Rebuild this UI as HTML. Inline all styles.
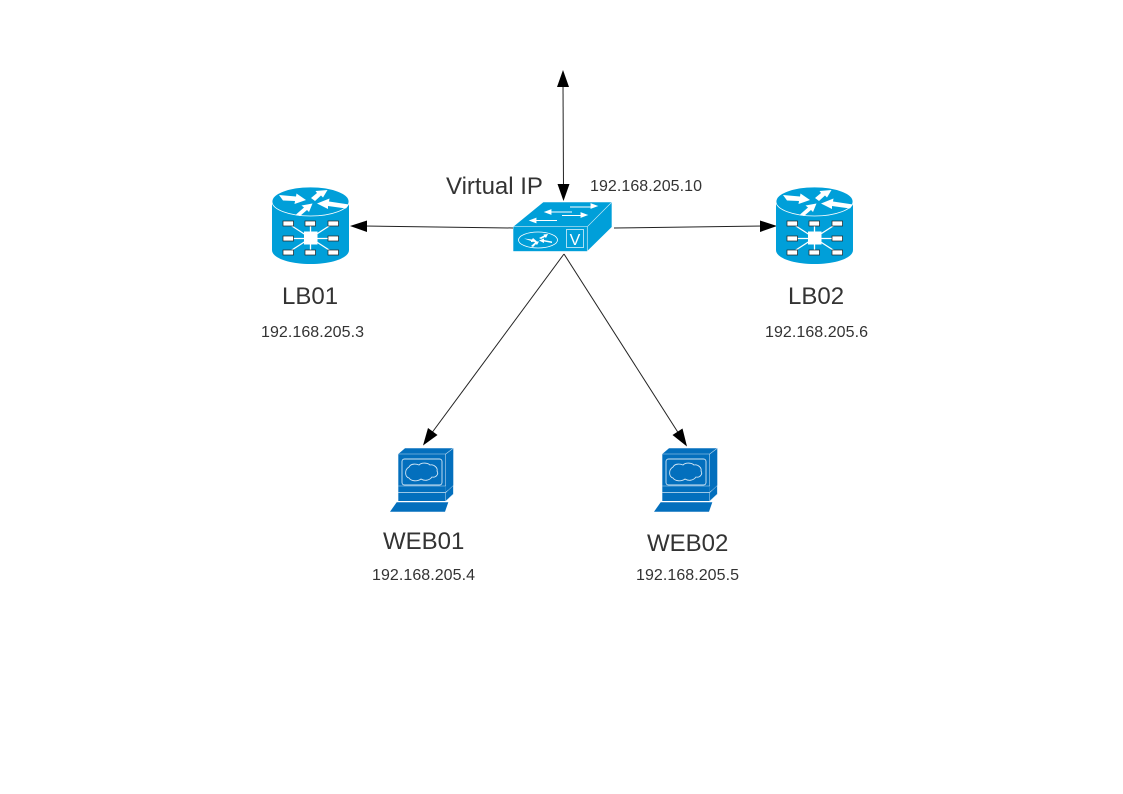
<!DOCTYPE html>
<html>
<head>
<meta charset="utf-8">
<style>
html,body{margin:0;padding:0;background:#fff;}
svg{display:block;}
text{font-family:"Liberation Sans",sans-serif;fill:#333;}
.b{font-size:24px;}
.s{font-size:16px;}
</style>
</head>
<body>
<svg width="1123" height="794" viewBox="0 0 1123 794" xmlns="http://www.w3.org/2000/svg">
<defs>
<g id="router">
  <path d="M272 201.500V250C272 258 289 264 310.500 264S349 258 349 250V201.500Z" fill="#009fd9"/>
  <ellipse cx="310.500" cy="201.500" rx="38.500" ry="14.500" fill="#009fd9" stroke="#fff" stroke-width="0.800"/>
  <g fill="#fff">
    <path d="M279 195L296 196.500L296.500 193.500L306 200L294.500 204L295 201L283 200.500Z"/>
    <path d="M311 198L317 193L315.500 191L327.500 190L323 197.500L321 195.500L315 201Z"/>
    <path d="M296 214.500L304 207.500L301.500 205.500L312.500 203.500L309 212L307 210L300 216Z"/>
    <path d="M346 208.500L328 206L328 209L317 203.500L329.500 198.500L329 201.500L349 204.500Z"/>
  </g>
  <g stroke="#fff" stroke-width="1.300" fill="none">
    <path d="M288 223.500L310.500 238M310.500 223.500V252M333 223.500L310.500 238M288 238.500H333M288 252.500L310.500 238L333 252.500"/>
  </g>
  <g fill="#fff" stroke="#222" stroke-width="0.700">
    <rect x="283" y="221" width="10.500" height="5"/>
    <rect x="305" y="221" width="10.500" height="5"/>
    <rect x="328" y="221" width="10.500" height="5"/>
    <rect x="283" y="236" width="10.500" height="5"/>
    <rect x="328" y="236" width="10.500" height="5"/>
    <rect x="283" y="250" width="10.500" height="5"/>
    <rect x="305" y="250" width="10.500" height="5"/>
    <rect x="328" y="250" width="10.500" height="5"/>
  </g>
  <rect x="304" y="231.500" width="13.500" height="13" fill="#fff"/>
</g>
<g id="pc">
  <path d="M398.300 454L405 448.300H453.300L445.700 454Z" fill="#036fbd"/>
  <path d="M445.700 454L453.300 448.300V486L445.700 492Z" fill="#036fbd"/>
  <rect x="398.300" y="454" width="47.400" height="32" fill="#036fbd"/>
  <path d="M445.700 454V486M445.700 454L453.300 448.300M398.300 454H445.700" stroke="#bcd9ef" stroke-width="0.600" fill="none"/>
  <rect x="402" y="459" width="40" height="26" rx="2.500" fill="none" stroke="#cfe4f4" stroke-width="0.900"/>
  <path d="M409 467C411 463 417 464 419 465C422 462 428 463 430 465C434 464 438 468 437 471C439 474 436 478 432 477C429 481 424 481 421 479C417 482 411 481 409 478C405 477 404 470 409 467Z" fill="#036fbd" stroke="#d5e8f6" stroke-width="0.900"/>
  <rect x="398.300" y="486" width="47.400" height="6.500" fill="#036fbd"/>
  <rect x="398.300" y="492.700" width="47.400" height="8.300" fill="#036fbd"/>
  <path d="M398.300 486H445.700M398.300 492.300H445.700" stroke="#bcd9ef" stroke-width="0.600" fill="none"/>
  <path d="M445.700 492.700L453.300 485.500V494L445.700 501Z" fill="#036fbd" stroke="#bcd9ef" stroke-width="0.500"/>
  <path d="M396.700 502.300H448.300L445 511.700H390Z" fill="#036fbd"/>
</g>
</defs>

<g stroke="#222" stroke-width="1" fill="none">
  <line x1="563" y1="84" x2="563.500" y2="187"/>
  <line x1="513" y1="228" x2="364" y2="226"/>
  <line x1="614" y1="228" x2="763" y2="226"/>
  <line x1="564" y1="254" x2="431" y2="434"/>
  <line x1="564" y1="254" x2="679" y2="434"/>
</g>
<g fill="#000">
  <path d="M563 70L569 87H557Z"/>
  <path d="M563.500 201L557.500 184H569.500Z"/>
  <path d="M350 226L367 220.500V232Z"/>
  <path d="M777 226L760 220.500V232Z"/>
  <path d="M423 445.500L428 428L437.500 435Z"/>
  <path d="M687 446.500L672.500 435L682.500 428.500Z"/>
</g>

<use href="#router"/>
<use href="#router" x="504"/>

<!-- switch -->
<path d="M543.300 202.300H611.700L587.300 226.700H513.300Z" fill="#009fd9"/>
<path d="M587.300 226.700L611.700 202.300V227L587.300 251Z" fill="#009fd9"/>
<rect x="513.300" y="226.700" width="74" height="24.500" fill="#009fd9"/>
<path d="M513.300 226.700H587.300L611.700 202.300M587.300 226.700V251" stroke="#cdeaf6" stroke-width="0.700" fill="none"/>
<g stroke="#fff" stroke-width="0.900" fill="#fff">
  <path d="M549 212H572" fill="none"/><path d="M545 212L551 209.800V214.200Z"/>
  <path d="M570 207H592" fill="none"/><path d="M597 206L591 203.800V208.200Z"/>
  <path d="M562 215.500H582" fill="none"/><path d="M587 215L581 212.800V217.200Z"/>
  <path d="M534 220.500H557" fill="none"/><path d="M530 220.500L536 218.300V222.700Z"/>
</g>
<ellipse cx="538" cy="240" rx="19.500" ry="8" fill="#009fd9" stroke="#fff" stroke-width="0.800"/>
<g fill="#fff">
  <path d="M524 238.500L532 239.500L533 238L537 241.500L531 242L531 241Z"/>
  <path d="M539 238L544 235.500L543.500 234.500L548 234L546 238L545 237L541 239Z"/>
  <path d="M531 246L535 242.500L534 241.500L539 241.500L537 245L536 244L533 247Z"/>
  <path d="M552 243L544 241.500L544 243L539 240.500L544 238.500V240L552 241.500Z"/>
</g>
<rect x="566.500" y="229.500" width="17" height="18" fill="none" stroke="#d6f0fa" stroke-width="0.800"/>
<text x="575" y="245" text-anchor="middle" style="font-size:16px;fill:#fff">V</text>

<use href="#pc"/>
<use href="#pc" x="264"/>

<text class="b" x="446" y="194">Virtual IP</text>
<text class="s" x="590" y="191" textLength="112">192.168.205.10</text>
<text class="b" x="282" y="304">LB01</text>
<text class="s" x="261" y="337" textLength="103">192.168.205.3</text>
<text class="b" x="788" y="304">LB02</text>
<text class="s" x="765" y="337" textLength="103">192.168.205.6</text>
<text class="b" x="383" y="549">WEB01</text>
<text class="s" x="372" y="580" textLength="103">192.168.205.4</text>
<text class="b" x="647" y="551">WEB02</text>
<text class="s" x="636" y="580" textLength="103">192.168.205.5</text>
</svg>
</body>
</html>
